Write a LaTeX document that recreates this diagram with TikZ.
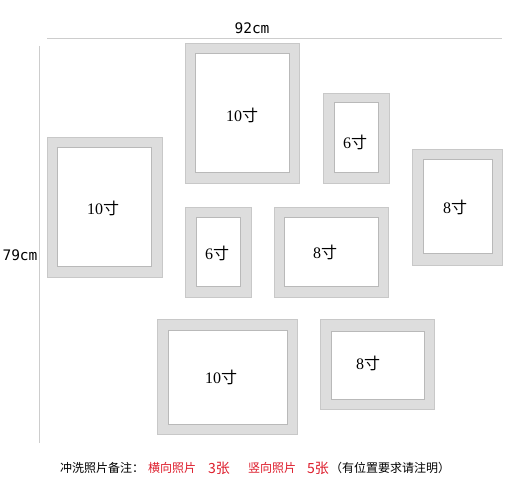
\documentclass[tikz,border=0pt]{standalone}
\usepackage{fontspec}
\newfontfamily\cjk{Noto Sans CJK SC}
\newfontfamily\digf{Liberation Serif}
\newfontfamily\monof{DejaVu Sans Mono}
\definecolor{framefill}{RGB}{221,221,221}
\definecolor{frameedge}{RGB}{200,200,200}
\definecolor{inneredge}{RGB}{185,185,185}
\definecolor{dimline}{RGB}{205,205,205}
\definecolor{notered}{RGB}{222,30,45}
\tikzset{
  outerframe/.style={fill=framefill, draw=frameedge, line width=0.8pt},
  innerframe/.style={fill=white, draw=inneredge, line width=1pt},
  sizelbl/.style={inner sep=0pt, font=\fontsize{16}{18}\selectfont},
  dimlbl/.style={inner sep=0pt, font=\monof\fontsize{14.5}{16}\selectfont},
  dimstroke/.style={draw=dimline, line width=1pt},
  notetxt/.style={inner sep=0pt, anchor=west, font=\cjk\fontsize{12}{14}\selectfont},
  notered/.style={notetxt, text=notered}
}
\begin{document}
\begin{tikzpicture}[x=1pt,y=-1pt]
\useasboundingbox[fill=white] (0,0) rectangle (525,500);

% dimension lines
\coordinate (hL) at (47,39);
\coordinate (hR) at (502,39);
\coordinate (vT) at (39,46);
\coordinate (vB) at (39,443);
\draw[dimstroke] (hL) -- (hR);
\draw[dimstroke] (vT) -- (vB);
\node[dimlbl] (w) at (252,28.5) {92cm};
\node[dimlbl] (h) at (20,255) {79cm};

% top 10
\draw[outerframe] (185,43) rectangle (299,183);
\draw[innerframe] (195,54) rectangle (289,173);
\node[sizelbl] (f1) at (242,115) {\digf 10\cjk 寸};

% left 10
\draw[outerframe] (47,137) rectangle (162,277);
\draw[innerframe] (57,148) rectangle (151,266);
\node[sizelbl] (f2) at (103,208) {\digf 10\cjk 寸};

% top 6
\draw[outerframe] (323,93) rectangle (389,183);
\draw[innerframe] (334,103) rectangle (378,173);
\node[sizelbl] (f3) at (355,142) {\digf 6\cjk 寸};

% right 8
\draw[outerframe] (412,149) rectangle (502,265);
\draw[innerframe] (423,160) rectangle (492,253);
\node[sizelbl] (f4) at (455,207) {\digf 8\cjk 寸};

% middle 6
\draw[outerframe] (185,207) rectangle (251,297);
\draw[innerframe] (196,217) rectangle (240,286);
\node[sizelbl] (f5) at (217,253) {\digf 6\cjk 寸};

% middle 8
\draw[outerframe] (274,207) rectangle (388,297);
\draw[innerframe] (284,217) rectangle (378,286);
\node[sizelbl] (f6) at (325,252) {\digf 8\cjk 寸};

% bottom 10
\draw[outerframe] (157,319) rectangle (297,434);
\draw[innerframe] (168,330) rectangle (287,424);
\node[sizelbl] (f7) at (221,377) {\digf 10\cjk 寸};

% bottom right 8
\draw[outerframe] (320,319) rectangle (434,409);
\draw[innerframe] (331,331) rectangle (424,399);
\node[sizelbl] (f8) at (368,363) {\digf 8\cjk 寸};

% note line
\node[notetxt] (n1) at (60,468) {冲洗照片备注：};
\node[notered] (n2) at (148,468) {横向照片};
\node[notered, font=\cjk\fontsize{14}{16}\selectfont] (n3) at (208,468) {3张};
\node[notered] (n4) at (248,468) {竖向照片};
\node[notered, font=\cjk\fontsize{14}{16}\selectfont] (n5) at (307,468) {5张};
\node[notetxt] (n6) at (330,468) {（有位置要求请注明）};
\end{tikzpicture}
\end{document}
